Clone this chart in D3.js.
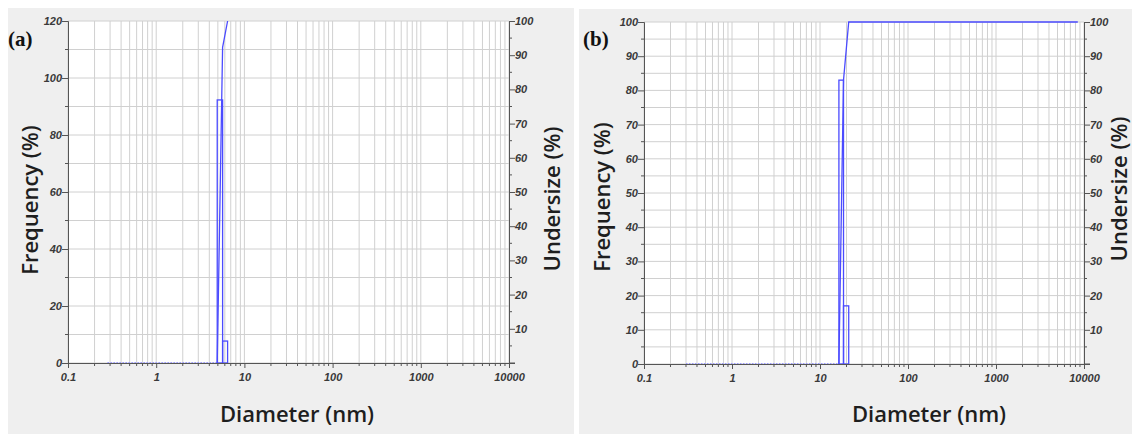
<!DOCTYPE html>
<html lang="en">
<head>
<meta charset="UTF-8">
<title>Particle size distribution</title>
<style>
    body { margin: 0; background: #fff; overflow: hidden; }
    .tick-label { font-family: "Liberation Sans", Arial, sans-serif; font-size: 11px; font-weight: bold; font-style: italic; fill: #3a3a3a; }
    .axis-title { font-family: "Open Sans", "DejaVu Sans", sans-serif; font-size: 22px; font-weight: 600; fill: #1e1e1e; }
    .panel-label { font-family: "Liberation Serif", "Times New Roman", serif; font-size: 21px; font-weight: bold; fill: #111; }
</style>
</head>
<body>
<div id="chart"></div>
<script src="https://d3js.org/d3.v7.min.js"></script>
<script>
// ---- data ----
const xTickValues = [0.1, 1, 10, 100, 1000, 10000];
const undersizeTicks = [10, 20, 30, 40, 50, 60, 70, 80, 90, 100];

// panel (a)
const edgesA = [4.92, 5.66, 6.45];
const freqA = [92.3, 7.7];
const undersizeA = [[4.92, 0], [5.66, 92.3], [6.45, 100]];
const zeroRunA = [0.28, 4.92];
const freqTicksA = [0, 20, 40, 60, 80, 100, 120];

// panel (b)
const edgesB = [16.4, 18.5, 21.2];
const freqB = [83, 17];
const undersizeB = [[16.4, 0], [18.5, 83], [21.2, 100], [8500, 100]];
const zeroRunB = [0.3, 16.4];
const freqTicksB = [0, 10, 20, 30, 40, 50, 60, 70, 80, 90, 100];

const W = 1132, H = 434;
const svg = d3.select("#chart").append("svg").attr("width", W).attr("height", H);

const blue = "#4b4bff";
const gridColor = "#d0d0d0";
const axisColor = "#555";

function drawPanel(p) {
    const g = svg.append("g");
    g.append("rect").attr("x", p.bg[0]).attr("y", p.bg[1]).attr("width", p.bg[2]).attr("height", p.bg[3]).attr("fill", "#efefef");

    const x = d3.scaleLog().domain([0.1, 10000]).range([p.left, p.right]);
    const y = d3.scaleLinear().domain([0, p.freqMax]).range([p.bottom, p.top]);
    const yu = d3.scaleLinear().domain([0, 100]).range([p.bottom, p.top]);

    g.append("rect").attr("x", p.left).attr("y", p.top)
        .attr("width", p.right - p.left).attr("height", p.bottom - p.top).attr("fill", "#fff");

    // log minor positions
    const logPos = [];
    for (let e = -1; e < 4; e++) for (let m = 1; m < 10; m++) logPos.push(m * Math.pow(10, e));
    logPos.push(10000);

    // grid
    g.append("g").selectAll("line").data(logPos).join("line")
        .attr("x1", d => x(d)).attr("x2", d => x(d)).attr("y1", p.top).attr("y2", p.bottom)
        .attr("stroke", gridColor).attr("stroke-width", 1);
    g.append("g").selectAll("line").data(d3.range(0, p.freqMax + 0.01, p.gridStep)).join("line")
        .attr("x1", p.left).attr("x2", p.right).attr("y1", d => y(d)).attr("y2", d => y(d))
        .attr("stroke", gridColor).attr("stroke-width", 1);

    // zero run (dotted)
    g.append("line").attr("x1", x(p.zeroRun[0])).attr("x2", x(p.zeroRun[1]))
        .attr("y1", y(0) - 0.5).attr("y2", y(0) - 0.5)
        .attr("stroke", "#9a9aff").attr("stroke-width", 1).attr("stroke-dasharray", "1.5,1.5");

    // histogram bars
    g.append("g").selectAll("rect").data(p.freq).join("rect")
        .attr("x", (d, i) => x(p.edges[i]))
        .attr("width", (d, i) => x(p.edges[i + 1]) - x(p.edges[i]))
        .attr("y", d => y(d)).attr("height", d => y(0) - y(d))
        .attr("fill", "none").attr("stroke", blue).attr("stroke-width", 1.3);

    // undersize curve
    const line = d3.line().x(d => x(d[0])).y(d => yu(d[1]));
    g.append("path").datum(p.undersize).attr("d", line)
        .attr("fill", "none").attr("stroke", blue).attr("stroke-width", 1.3);

    // left axis
    const yAxis = d3.axisLeft(y).tickValues(p.freqTicks).tickSize(6).tickFormat(d3.format("d"));
    const ga = g.append("g").attr("transform", `translate(${p.left},0)`).call(yAxis);
    ga.selectAll("text").attr("class", "tick-label").attr("x", -6);
    const minorY = d3.range(p.freqMinor, p.freqMax, p.freqMinor * 2);
    g.append("g").selectAll("line").data(minorY).join("line")
        .attr("x1", p.left - 3).attr("x2", p.left).attr("y1", d => y(d)).attr("y2", d => y(d))
        .attr("stroke", axisColor);

    // right axis
    const yuAxis = d3.axisRight(yu).tickValues(undersizeTicks).tickSize(6).tickFormat(d3.format("d"));
    const gr = g.append("g").attr("transform", `translate(${p.right},0)`).call(yuAxis);
    gr.selectAll("text").attr("class", "tick-label").attr("x", 6);
    g.append("g").selectAll("line").data(d3.range(5, 100, 10)).join("line")
        .attr("x1", p.right).attr("x2", p.right + 3).attr("y1", d => yu(d)).attr("y2", d => yu(d))
        .attr("stroke", axisColor);
    g.append("line").attr("x1", p.right).attr("x2", p.right + 6).attr("y1", p.bottom).attr("y2", p.bottom).attr("stroke", axisColor);

    // bottom axis
    const xAxis = d3.axisBottom(x).tickValues(xTickValues).tickSize(5).tickFormat(d => String(d));
    const gb = g.append("g").attr("transform", `translate(0,${p.bottom})`).call(xAxis);
    gb.selectAll("text").attr("class", "tick-label").attr("y", 10);
    g.append("g").selectAll("line").data(logPos.filter(d => !xTickValues.includes(d))).join("line")
        .attr("x1", d => x(d)).attr("x2", d => x(d)).attr("y1", p.bottom).attr("y2", p.bottom + 3)
        .attr("stroke", axisColor);

    [ga, gr, gb].forEach(a => {
        a.select(".domain").attr("stroke", axisColor);
        a.selectAll(".tick line").attr("stroke", axisColor);
    });

    // titles
    g.append("text").attr("class", "axis-title").attr("text-anchor", "middle")
        .attr("transform", `translate(${p.freqTitle[0]},${p.freqTitle[1]}) rotate(-90)`)
        .attr("dy", "0.35em").text("Frequency (%)");
    g.append("text").attr("class", "axis-title").attr("text-anchor", "middle")
        .attr("transform", `translate(${p.underTitle[0]},${p.underTitle[1]}) rotate(-90)`)
        .attr("dy", "0.35em").text("Undersize (%)");
    g.append("text").attr("class", "axis-title").attr("text-anchor", "middle")
        .attr("x", p.diamTitle[0]).attr("y", p.diamTitle[1]).text("Diameter (nm)");
    g.append("text").attr("class", "panel-label").attr("x", p.label[0]).attr("y", p.label[1]).text(p.name);
}

drawPanel({
    name: "(a)", bg: [8, 8, 566, 426],
    left: 68, right: 509, top: 21, bottom: 363,
    freqMax: 120, freqTicks: freqTicksA, freqMinor: 10, gridStep: 10,
    edges: edgesA, freq: freqA, undersize: undersizeA, zeroRun: zeroRunA,
    freqTitle: [30, 200], underTitle: [552, 199], diamTitle: [297, 422], label: [8, 46]
});

drawPanel({
    name: "(b)", bg: [579, 9, 553, 425],
    left: 644, right: 1084, top: 22, bottom: 364,
    freqMax: 100, freqTicks: freqTicksB, freqMinor: 5, gridStep: 5,
    edges: edgesB, freq: freqB, undersize: undersizeB, zeroRun: zeroRunB,
    freqTitle: [602, 197], underTitle: [1119, 189], diamTitle: [929, 422], label: [583, 46]
});
</script>
</body>
</html>
